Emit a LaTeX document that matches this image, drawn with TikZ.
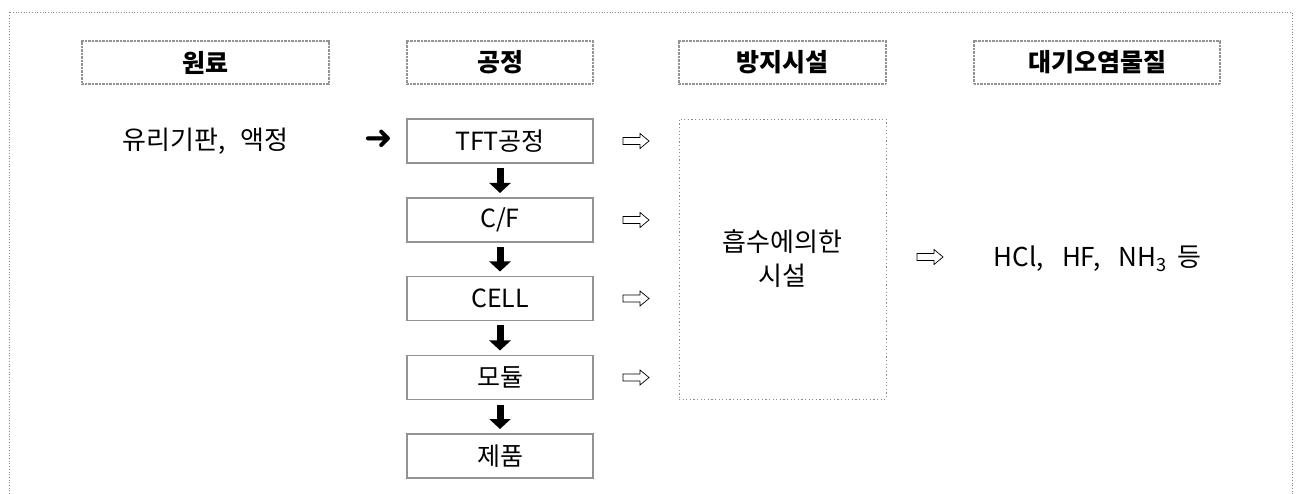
\documentclass[tikz,border=0pt]{standalone}
\usepackage{fontspec}
\setmainfont{Noto Sans CJK KR}
\newfontfamily\symfont{DejaVu Sans}
\usetikzlibrary{arrows.meta}
\begin{document}
\begin{tikzpicture}[x=1pt,y=-1pt,
  frame/.style={draw=gray!90, line width=0.9pt, dash pattern=on 0.9pt off 1.8pt},
  hdr/.style={draw=gray!85, line width=1.8pt, dash pattern=on 0.9pt off 0.5pt, minimum height=43pt, inner sep=0pt, outer sep=0pt, font=\fontsize{25}{28}\selectfont\bfseries},
  proc/.style={draw=gray!85, line width=1.3pt, minimum width=186pt, minimum height=44pt, inner sep=0pt, outer sep=0pt, font=\fontsize{25}{28}\selectfont},
  dotbox/.style={draw=gray!90, line width=0.9pt, dash pattern=on 1.2pt off 2.4pt, minimum width=207pt, minimum height=280pt, inner sep=0pt, outer sep=0pt, align=center, font=\fontsize{26}{34}\selectfont},
  plain/.style={inner sep=0pt, font=\fontsize{26}{30}\selectfont},
  darr/.style={line width=7pt, -{Triangle[width=21pt,length=10pt]}, shorten <=5pt, shorten >=5pt},
  harr/.style={draw=black, line width=0.7pt, fill=white, line join=miter}
]
\useasboundingbox (0,0) rectangle (1296,494);
% outer frame (open at bottom)
\draw[frame] (9,494) -- (9,12) -- (1292,12) -- (1292,494);

% headers
\node[hdr, minimum width=247pt] (h1) at (205.5,62.5) {원료};
\node[hdr, minimum width=186pt] (h2) at (500,62.5) {공정};
\node[hdr, minimum width=207pt] (h3) at (782.5,62.5) {방지시설};
\node[hdr, minimum width=246pt] (h4) at (1097,62.5) {대기오염물질};

% raw material
\node[plain] (raw) at (205.5,141) {유리기판,\hspace{0.6em}액정};
\node[inner sep=0pt, font=\symfont\fontsize{34}{36}\selectfont] (rawarr) at (379,140) {➜};

% process boxes
\node[proc] (tft) at (500,141) {TFT공정};
\node[proc] (cf) at (500,220) {C/F};
\node[proc] (cell) at (500,298.5) {CELL};
\node[proc] (mod) at (500,377.5) {모듈};
\node[proc] (prod) at (500,456) {제품};

\draw[darr] (tft) -- (cf);
\draw[darr] (cf) -- (cell);
\draw[darr] (cell) -- (mod);
\draw[darr] (mod) -- (prod);

% hollow arrows
\coordinate (a1) at (636,141);
\coordinate (a2) at (636,220);
\coordinate (a3) at (636,298.5);
\coordinate (a4) at (636,377.5);
\coordinate (a5) at (930,257);
\foreach \c in {a1,a2,a3,a4,a5}{
  \draw[harr] (\c) ++(-13,-3.5) -- ++(17,0) -- ++(0,-4) -- ++(9,7.5) -- ++(-9,7.5) -- ++(0,-4) -- ++(-17,0) -- cycle;
}

% control facility
\node[dotbox] (ctrl) at (782.5,259) {흡수에의한\\시설};

% pollutants
\node[plain] (poll) at (1097.5,259) {HCl,\hspace{0.7em}HF,\hspace{0.7em}NH\textsubscript{3}\hspace{0.4em}등};
\end{tikzpicture}
\end{document}
